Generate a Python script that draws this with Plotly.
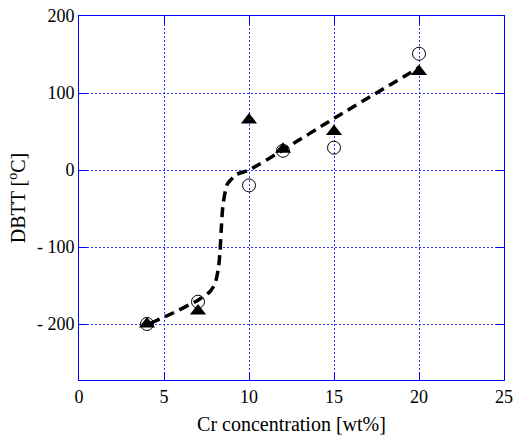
import plotly.graph_objects as go

# Data
cr_circle = [4, 7, 10, 12, 15, 20]
dbtt_circle = [-200, -171, -20, 25, 29, 151]
cr_tri = [4, 7, 10, 12, 15, 20]
dbtt_tri = [-200, -183, 65, 27, 50, 128]
cr_fit = [4.2, 5.5, 7.0, 7.7, 8.0, 8.2, 8.3, 8.36, 8.47, 8.71, 9.25, 10, 12, 15, 20]
dbtt_fit = [-199, -186, -169, -158, -148, -128, -105, -80, -45, -19, -6, 0, 26, 67, 133]
x_ticks = [0, 5, 10, 15, 20, 25]
y_ticks = [-200, -100, 0, 100, 200]
y_ticklabels = ["- 200", "- 100", "0", "100", "200"]

font = "Liberation Serif"
fig = go.Figure()
fig.add_trace(go.Scatter(x=cr_fit, y=dbtt_fit, mode="lines",
                         line=dict(color="black", width=3.5, dash="10px,6px", shape="spline", smoothing=0.5),
                         showlegend=False, hoverinfo="skip"))
fig.add_trace(go.Scatter(x=cr_circle, y=dbtt_circle, mode="markers",
                         marker=dict(symbol="circle-open", size=13, color="black", line=dict(width=1)),
                         showlegend=False))
fig.add_trace(go.Scatter(x=cr_tri, y=dbtt_tri, mode="markers",
                         marker=dict(symbol="triangle-up", size=14, color="black"),
                         showlegend=False))

axis_common = dict(showline=True, linecolor="blue", linewidth=1, mirror="ticks",
                   ticks="inside", ticklen=8, tickcolor="blue", automargin=False,
                   showgrid=True, gridcolor="rgb(50,50,255)", griddash="2px,2px", gridwidth=1.2,
                   zeroline=False, showspikes=False,
                   tickfont=dict(family=font, size=18, color="black"))
fig.update_xaxes(range=[0, 25], tickvals=x_ticks,
                 title=dict(text="Cr concentration [wt%]", font=dict(family=font, size=20, color="black"), standoff=11),
                 **axis_common)
fig.update_yaxes(range=[-272.73, 200], tickvals=y_ticks, ticktext=y_ticklabels,
                 title=dict(text="DBTT [<sup>o</sup>C]", font=dict(family=font, size=20, color="black"), standoff=5),
                 **axis_common)
fig.update_layout(width=516, height=436, margin=dict(l=79, r=12, t=16, b=56),
                  plot_bgcolor="white", paper_bgcolor="white", hovermode=False)
fig.write_html("out.html", config={"displayModeBar": False},
               post_script="document.body.style.margin='0';document.body.style.overflow='hidden';")
